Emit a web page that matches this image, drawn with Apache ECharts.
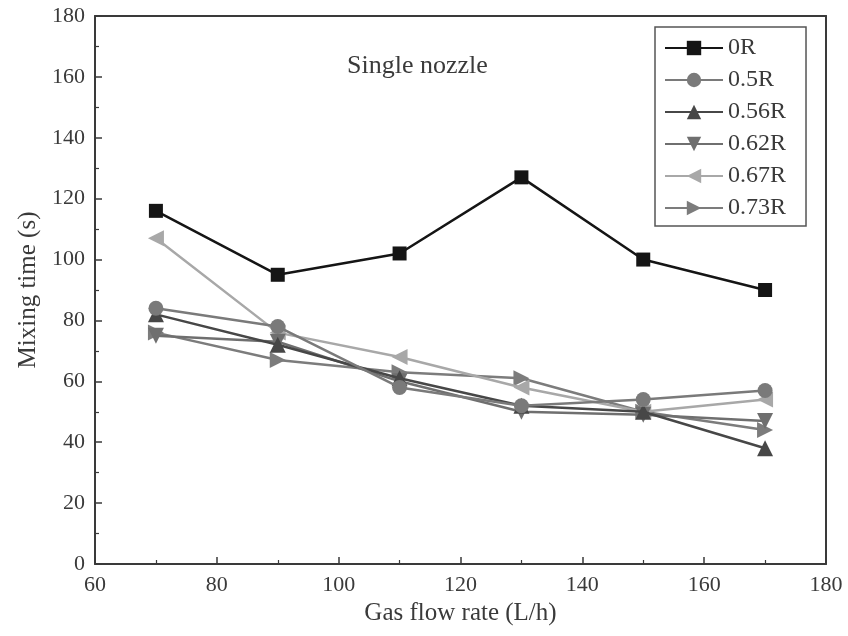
<!DOCTYPE html>
<html>
<head>
<meta charset="utf-8">
<script src="https://cdn.jsdelivr.net/npm/echarts@6/dist/echarts.min.js"></script>
<style>
  html, body { margin: 0; padding: 0; background: #fff; }
  #chart { width: 848px; height: 636px; }
</style>
</head>
<body>
<div id="chart"></div>
<script>
// gas flow rate (L/h)
const flowRates = [70, 90, 110, 130, 150, 170]

// mixing time (s) for each radial position
const t0R   = [116, 95, 102, 127, 100, 90]
const t05R  = [84, 78, 58, 52, 54, 57]
const t056R = [82, 72, 61, 52, 50, 38]
const t062R = [75, 73, 60, 50, 49, 47]
const t067R = [107, 76, 68, 58, 50, 54]
const t073R = [76, 67, 63, 61, 50, 44]

const seriesNames = ['0R', '0.5R', '0.56R', '0.62R', '0.67R', '0.73R']
const seriesData = [t0R, t05R, t056R, t062R, t067R, t073R]

const font = '"Liberation Serif", "DejaVu Serif", serif'
const axisColor = '#3a3a3a'
const textColor = '#3a3a3a'

const styles = [
  { color: '#151515', symbol: 'rect', rotate: 0, size: 14 },
  { color: '#7a7a7a', symbol: 'circle', rotate: 0, size: 15 },
  { color: '#474747', symbol: 'triangle', rotate: 0, size: 16 },
  { color: '#6f6f6f', symbol: 'triangle', rotate: 180, size: 16 },
  { color: '#a8a8a8', symbol: 'triangle', rotate: 90, size: 16 },
  { color: '#7c7c7c', symbol: 'triangle', rotate: -90, size: 16 },
]

const chart = echarts.init(document.getElementById('chart'))

const frameAxis = {
  axisLine: { show: true, onZero: false, lineStyle: { color: axisColor, width: 2 } },
  splitLine: { show: false },
}
const tickStyle = {
  axisTick: { show: true, inside: true, length: 7, lineStyle: { color: axisColor, width: 1.5 } },
  minorTick: { show: true, splitNumber: 2, length: 4, lineStyle: { color: axisColor, width: 1.2 } },
  axisLabel: { fontFamily: font, fontSize: 22, color: textColor, margin: 10 },
}

chart.setOption({
  animation: false,
  backgroundColor: '#fff',
  grid: { left: 95, right: 22, top: 16, bottom: 72 },
  legend: {
    orient: 'vertical',
    left: 655,
    top: 27,
    data: seriesNames,
    itemWidth: 58,
    itemHeight: 18,
    itemGap: 8,
    padding: [9, 20, 6, 9],
    borderColor: '#555',
    borderWidth: 1.5,
    textStyle: { fontFamily: font, fontSize: 24, lineHeight: 24, color: textColor },
  },
  graphic: [{
    type: 'text',
    left: 347,
    top: 53,
    style: { text: 'Single nozzle', font: '26px ' + font, fill: textColor },
  }],
  xAxis: [
    {
      ...frameAxis,
      ...tickStyle,
      type: 'value',
      min: 60,
      max: 180,
      interval: 20,
      name: 'Gas flow rate (L/h)',
      nameLocation: 'middle',
      nameGap: 36,
      nameTextStyle: { fontFamily: font, fontSize: 25, color: textColor },
    },
    {
      ...frameAxis,
      type: 'value',
      position: 'top',
      min: 60,
      max: 180,
      axisTick: { show: false },
      axisLabel: { show: false },
    },
  ],
  yAxis: [
    {
      ...frameAxis,
      ...tickStyle,
      type: 'value',
      min: 0,
      max: 180,
      interval: 20,
      name: 'Mixing time (s)',
      nameLocation: 'middle',
      nameGap: 54,
      nameTextStyle: { fontFamily: font, fontSize: 25, color: textColor },
    },
    {
      ...frameAxis,
      type: 'value',
      position: 'right',
      min: 0,
      max: 180,
      axisTick: { show: false },
      axisLabel: { show: false },
    },
  ],
  series: seriesNames.map((name, i) => ({
    name,
    type: 'line',
    data: flowRates.map((x, j) => [x, seriesData[i][j]]),
    symbol: styles[i].symbol,
    symbolRotate: styles[i].rotate,
    symbolSize: styles[i].size,
    showAllSymbol: true,
    lineStyle: { color: styles[i].color, width: 2.5 },
    itemStyle: { color: styles[i].color },
    z: 10 - i,
  })),
})
</script>
</body>
</html>
